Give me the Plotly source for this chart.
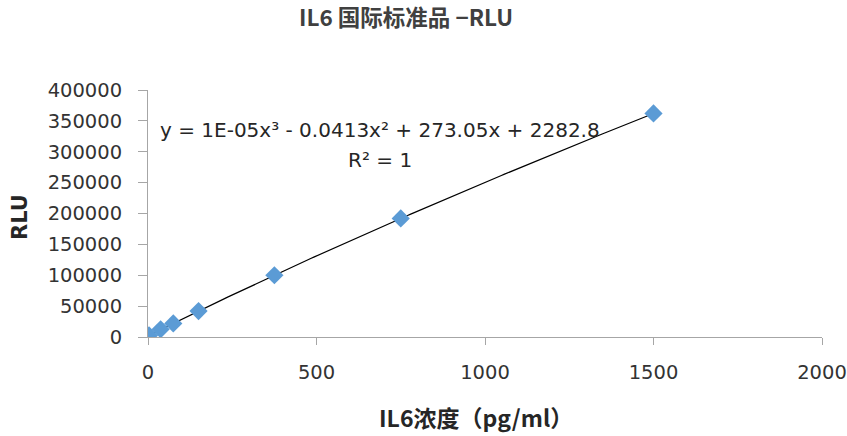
import numpy as np
import plotly.graph_objects as go

# IL6 standard concentrations (pg/ml) and measured RLU
conc = [3, 37.5, 75, 150, 375, 750, 1500]
rlu = [2500, 12500, 22000, 42000, 100000, 192000, 362000]

x_ticks = [0, 500, 1000, 1500, 2000]
y_ticks = [0, 50000, 100000, 150000, 200000, 250000, 300000, 350000, 400000]

equation = "y = 1E-05x³ - 0.0413x² + 273.05x + 2282.8"
r_squared = "R² = 1"

# cubic trendline through the standards
coef = np.polyfit(conc, rlu, 3)
xs = np.linspace(min(conc), max(conc), 200)
ys = np.polyval(coef, xs)

W, H = 847, 436
ML, MR, MT, MB = 148, 25, 90, 99
PW, PH = W - ML - MR, H - MT - MB


def px_x(p):
    return (p - ML) / PW


def px_y(p):
    return 1 - (p - MT) / PH


fig = go.Figure()
fig.add_trace(go.Scatter(x=xs, y=ys, mode="lines",
                         line=dict(color="black", width=1.2),
                         hoverinfo="skip", showlegend=False))
fig.add_trace(go.Scatter(x=conc, y=rlu, mode="markers",
                         marker=dict(symbol="diamond", size=14, color="#5b9bd5"),
                         showlegend=False))

tick_font = dict(family="DejaVu Sans", size=19.5, color="#333333")
axis_col = "#a6a6a6"
cjk = "Noto Sans CJK SC"

fig.update_layout(
    template="none",
    width=W, height=H,
    margin=dict(l=ML, r=MR, t=MT, b=MB, autoexpand=False),
    paper_bgcolor="white", plot_bgcolor="white",
    title=dict(text="<b>IL6 国际标准品 −RLU</b>", x=406 / W, xanchor="center",
               y=1 - 18 / H, yanchor="middle",
               font=dict(family=cjk, size=22.5, color="#404040")),
    xaxis=dict(range=[0, 2000], tickvals=x_ticks, ticktext=[str(v) for v in x_ticks],
               showgrid=False, zeroline=False, showline=True, linecolor=axis_col,
               linewidth=1, ticks="outside", ticklen=7, tickcolor=axis_col,
               tickfont=tick_font, ticklabelstandoff=11, automargin=False),
    yaxis=dict(range=[0, 400000], tickvals=y_ticks, ticktext=[str(v) for v in y_ticks],
               showgrid=False, zeroline=False, showline=True, linecolor=axis_col,
               linewidth=1, ticks="outside", ticklen=9, tickcolor=axis_col,
               tickfont=tick_font, ticklabelstandoff=12, automargin=False),
    annotations=[
        dict(text=equation, x=px_x(380), y=px_y(130), xref="paper", yref="paper",
             showarrow=False, xanchor="center", yanchor="middle",
             font=dict(family="DejaVu Sans", size=20, color="#262626")),
        dict(text=r_squared, x=px_x(380), y=px_y(160), xref="paper", yref="paper",
             showarrow=False, xanchor="center", yanchor="middle",
             font=dict(family="DejaVu Sans", size=20, color="#262626")),
        # axis titles
        dict(text="<b>IL6浓度（pg/ml）</b>", x=px_x(476), y=px_y(417),
             xref="paper", yref="paper", showarrow=False,
             xanchor="center", yanchor="middle",
             font=dict(family=cjk, size=23, color="#262626")),
        dict(text="<b>RLU</b>", x=px_x(20), y=px_y(217), textangle=-90,
             xref="paper", yref="paper", showarrow=False,
             xanchor="center", yanchor="middle",
             font=dict(family="DejaVu Sans", size=21, color="#262626")),
    ],
)

fig.write_html("out.html")
